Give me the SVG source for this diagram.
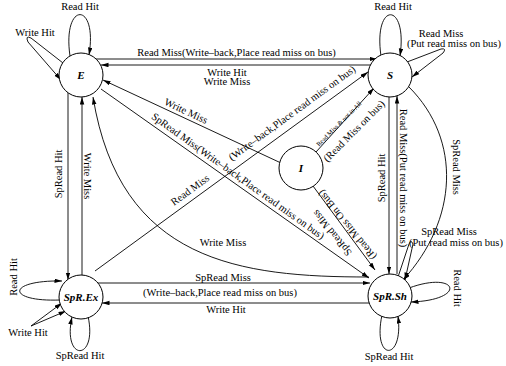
<svg xmlns="http://www.w3.org/2000/svg" width="506" height="366" viewBox="0 0 506 366">
<defs>
<marker id="ah" markerWidth="8" markerHeight="5" refX="7.5" refY="2.25" orient="auto" markerUnits="userSpaceOnUse">
<path d="M0,0 L7.5,2.25 L0,4.5 z" fill="#000"/>
</marker>
</defs>
<style>
.n{fill:#fff;stroke:#000;stroke-width:1}
.nl{font-family:"Liberation Serif",serif;font-size:11px;font-weight:bold;font-style:italic;text-anchor:middle}
.e{fill:none;stroke:#000;stroke-width:0.9}
.a{marker-end:url(#ah)}
.t{font-family:"Liberation Serif",serif;font-size:10.5px;text-anchor:middle;fill:#000}
.s{font-family:"Liberation Serif",serif;font-size:6.5px;text-anchor:middle;fill:#000}
</style>
<rect width="506" height="366" fill="#fff"/>
<g id="connectors">
<path class="e a" d="M95,59 L377,59"/>
<path class="e a" d="M372,65 L101,65"/>
<path class="e a" d="M70,56 C62,1 98,1 89,55"/>
<path class="e a" d="M63,63 L31,38 Q25,35 28,42 L61,80"/>
<path class="e a" d="M381,56 C373,1 408,1 400,56"/>
<path class="e a" d="M407,62 L441,49 Q447,48 443,53 L412,77"/>
<path class="e a" d="M68,92 L68,280"/>
<path class="e a" d="M82,275 L82,97"/>
<path class="e a" d="M389,97 L389,274"/>
<path class="e a" d="M397,274 L397,96"/>
<path class="e a" d="M96,283 L370,283"/>
<path class="e a" d="M369,303 L102,303"/>
<path class="e a" d="M281,163 L103,80"/>
<path class="e a" d="M101,89 L369,278"/>
<path class="e a" d="M95,271 L368,72"/>
<path class="e a" d="M316,152 L374,88"/>
<path class="e a" d="M313,186 L375,270"/>
<path class="e a" d="M369,277 C240,277 120,262 93,97"/>
<path class="e a" d="M409,87 C462,140 458,220 403,280"/>
<path class="e a" d="M398,277 L409,244 Q411,239 413,244 L405,280"/>
<path class="e a" d="M409,288 C458,270 468,300 411,302"/>
<path class="e a" d="M382,315 C372,362 404,362 398,316"/>
<path class="e a" d="M60,300 C6,302 6,280 62,281"/>
<path class="e a" d="M31,326 L62,303"/>
<path class="e a" d="M31,326 L66,311"/>
<path class="e a" d="M88,316 C98,362 62,362 72,317"/>
</g>
<g id="labels">
<text class="t" x="80" y="10">Read Hit</text>
<text class="t" x="35" y="35.5">Write Hit</text>
<text class="t" x="393" y="10">Read Hit</text>
<text class="t" x="441" y="36.5">Read Miss</text>
<text class="t" x="454" y="47">(Put read miss on bus)</text>
<text class="t" x="236.5" y="55.5">Read Miss(Write–back,Place read miss on bus)</text>
<text class="t" x="227" y="75.5">Write Hit</text>
<text class="t" x="227" y="85">Write Miss</text>
<text class="t" transform="translate(62,174) rotate(-90)">SpRead Hit</text>
<text class="t" transform="translate(84,176) rotate(90)">Write Miss</text>
<text class="t" transform="translate(385,178) rotate(-90)">SpRead Hit</text>
<text class="t" transform="translate(400,178) rotate(90)">Read Miss(Put read miss on bus)</text>
<text class="t" transform="translate(453,167) rotate(90)">SpRead Miss</text>
<text class="t" x="449" y="234.5">SpRead Miss</text>
<text class="t" x="456" y="245.5">(Put read miss on bus)</text>
<text class="t" transform="translate(454,288) rotate(90)">Read Hit</text>
<text class="t" x="389" y="360">SpRead Hit</text>
<text class="t" transform="translate(16.5,277) rotate(-90)">Read Hit</text>
<text class="t" x="28" y="336">Write Hit</text>
<text class="t" x="80" y="359">SpRead Hit</text>
<text class="t" x="223" y="280.5">SpRead Miss</text>
<text class="t" x="220" y="295.5">(Write–back,Place read miss on bus)</text>
<text class="t" x="226" y="312.5">Write Hit</text>
<text class="t" x="223" y="245.5">Write Miss</text>
<text class="t" transform="translate(186,111) rotate(25)" y="3.5">Write Miss</text>
<text class="t" transform="translate(238,176) rotate(35.5)" y="3.5">SpRead Miss(Write–back,Place read miss on bus)</text>
<text class="t" transform="translate(190,190) rotate(-36)" y="3.5">Read Miss</text>
<text class="t" transform="translate(292,113) rotate(-36)" y="3.5">(Write–back,Place read miss on bus)</text>
<text class="s" transform="translate(339,124) rotate(-45)" y="2">Read Miss &amp; not in All</text>
<text class="t" transform="translate(354,131) rotate(-45)" y="3.5">(Read Miss on bus)</text>
<text class="t" transform="translate(347,225) rotate(231)" y="3.5">(Read Miss On Bus)</text>
<text class="t" transform="translate(332,233) rotate(231)" y="3.5">SpRead Miss</text>
</g>
<g id="E"><circle class="n" cx="81" cy="75" r="22"/><text class="nl" x="81" y="79">E</text></g>
<g id="S"><circle class="n" cx="390" cy="75" r="22"/><text class="nl" x="390" y="79">S</text></g>
<g id="I"><circle class="n" cx="301" cy="168" r="22"/><text class="nl" x="301" y="172">I</text></g>
<g id="SpR.Ex"><circle class="n" cx="81" cy="297" r="22"/><text class="nl" x="81" y="301">SpR.Ex</text></g>
<g id="SpR.Sh"><circle class="n" cx="390" cy="296" r="22"/><text class="nl" x="390" y="300">SpR.Sh</text></g>
</svg>
